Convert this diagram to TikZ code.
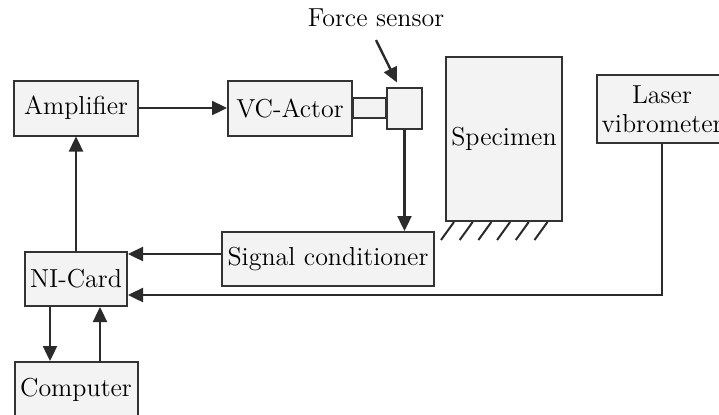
\documentclass[tikz,border=0pt]{standalone}
\usepackage{tikz}
\usetikzlibrary{
  arrows.meta,
  calc,
  positioning
}
\definecolor{ink}{HTML}{2B2B2B}
\definecolor{edge}{HTML}{333333}
\definecolor{boxfill}{HTML}{F3F3F3}
\tikzset{
  flow/.style={
    -{Triangle[length=7.5pt,width=7pt]},
    line width=1.2pt,
    draw=ink
  },
  block/.style={
    draw=edge,
    fill=boxfill,
    line width=1pt,
    minimum width=62pt,
    minimum height=27.5pt,
    inner sep=2pt,
    align=center
  },
  sensorbox/.style={
    draw=edge,
    fill=boxfill,
    line width=1pt,
    minimum width=17.5pt,
    minimum height=20.5pt,
    inner sep=0pt
  },
  rodpart/.style={
    draw=edge,
    fill=boxfill,
    line width=1pt
  },
  hatchline/.style={
    draw=ink,
    line width=1pt
  }
}

\begin{document}
\begin{tikzpicture}[x=0.5pt, y=-0.5pt, font=\fontsize{13}{14.5}\selectfont]
  \clip (0,0) rectangle (719,414);
  % upper row
  \node[block] (amp) at (76,108) {Amplifier};
  \node[block, right=44pt of amp] (actor) {VC-Actor};
  \node[sensorbox, right=16.5pt of actor] (sensor) {};
  \draw[rodpart] ([yshift=5pt]actor.east) rectangle ([yshift=-5pt]sensor.west);
  \node (forcelabel) at (376,18) {Force sensor};
  \node[block, minimum width=58pt, minimum height=82pt] (specimen) at (504,139) {Specimen};
  \node[block, minimum width=65pt, minimum height=34pt, inner sep=1pt] (laser) at (662,109)
    {Laser\\vibrometer};
  % clamped foot of the specimen
  \foreach \i in {0,...,5}
    \draw[hatchline] ($(specimen.south west)+(-4+18.7*\i,18)$)
      -- ($(specimen.south west)+(9+18.7*\i,0)$);
  % lower part
  \node[block, minimum width=106pt, minimum height=27pt] (cond) at (328,259) {Signal conditioner};
  \node[block, minimum width=51pt, minimum height=27pt] (nicard) at (76,279) {NI-Card};
  \node[block, below=27pt of nicard, minimum width=61.5pt] (computer) {Computer};
  % signals
  \draw[flow] (amp) -- (actor);
  \draw[flow] ([yshift=-3pt]forcelabel.south) -- ([xshift=5.5pt,yshift=2pt]sensor.north west);
  \draw[flow] (sensor.south) -- (sensor.south |- cond.north);
  \draw[flow] ([yshift=2.5pt]cond.west) -- ([yshift=2.5pt]cond.west -| nicard.east);
  \draw[flow] (laser.south) |- ([yshift=-8pt]nicard.east);
  \draw[flow] (nicard.north) -- (amp.south);
  \draw[flow] ([xshift=-13pt]nicard.south) -- ([xshift=-13pt]nicard.south |- computer.north);
  \draw[flow] ([xshift=12pt]computer.north -| nicard.south) -- ([xshift=12pt]nicard.south);
\end{tikzpicture}
\end{document}
